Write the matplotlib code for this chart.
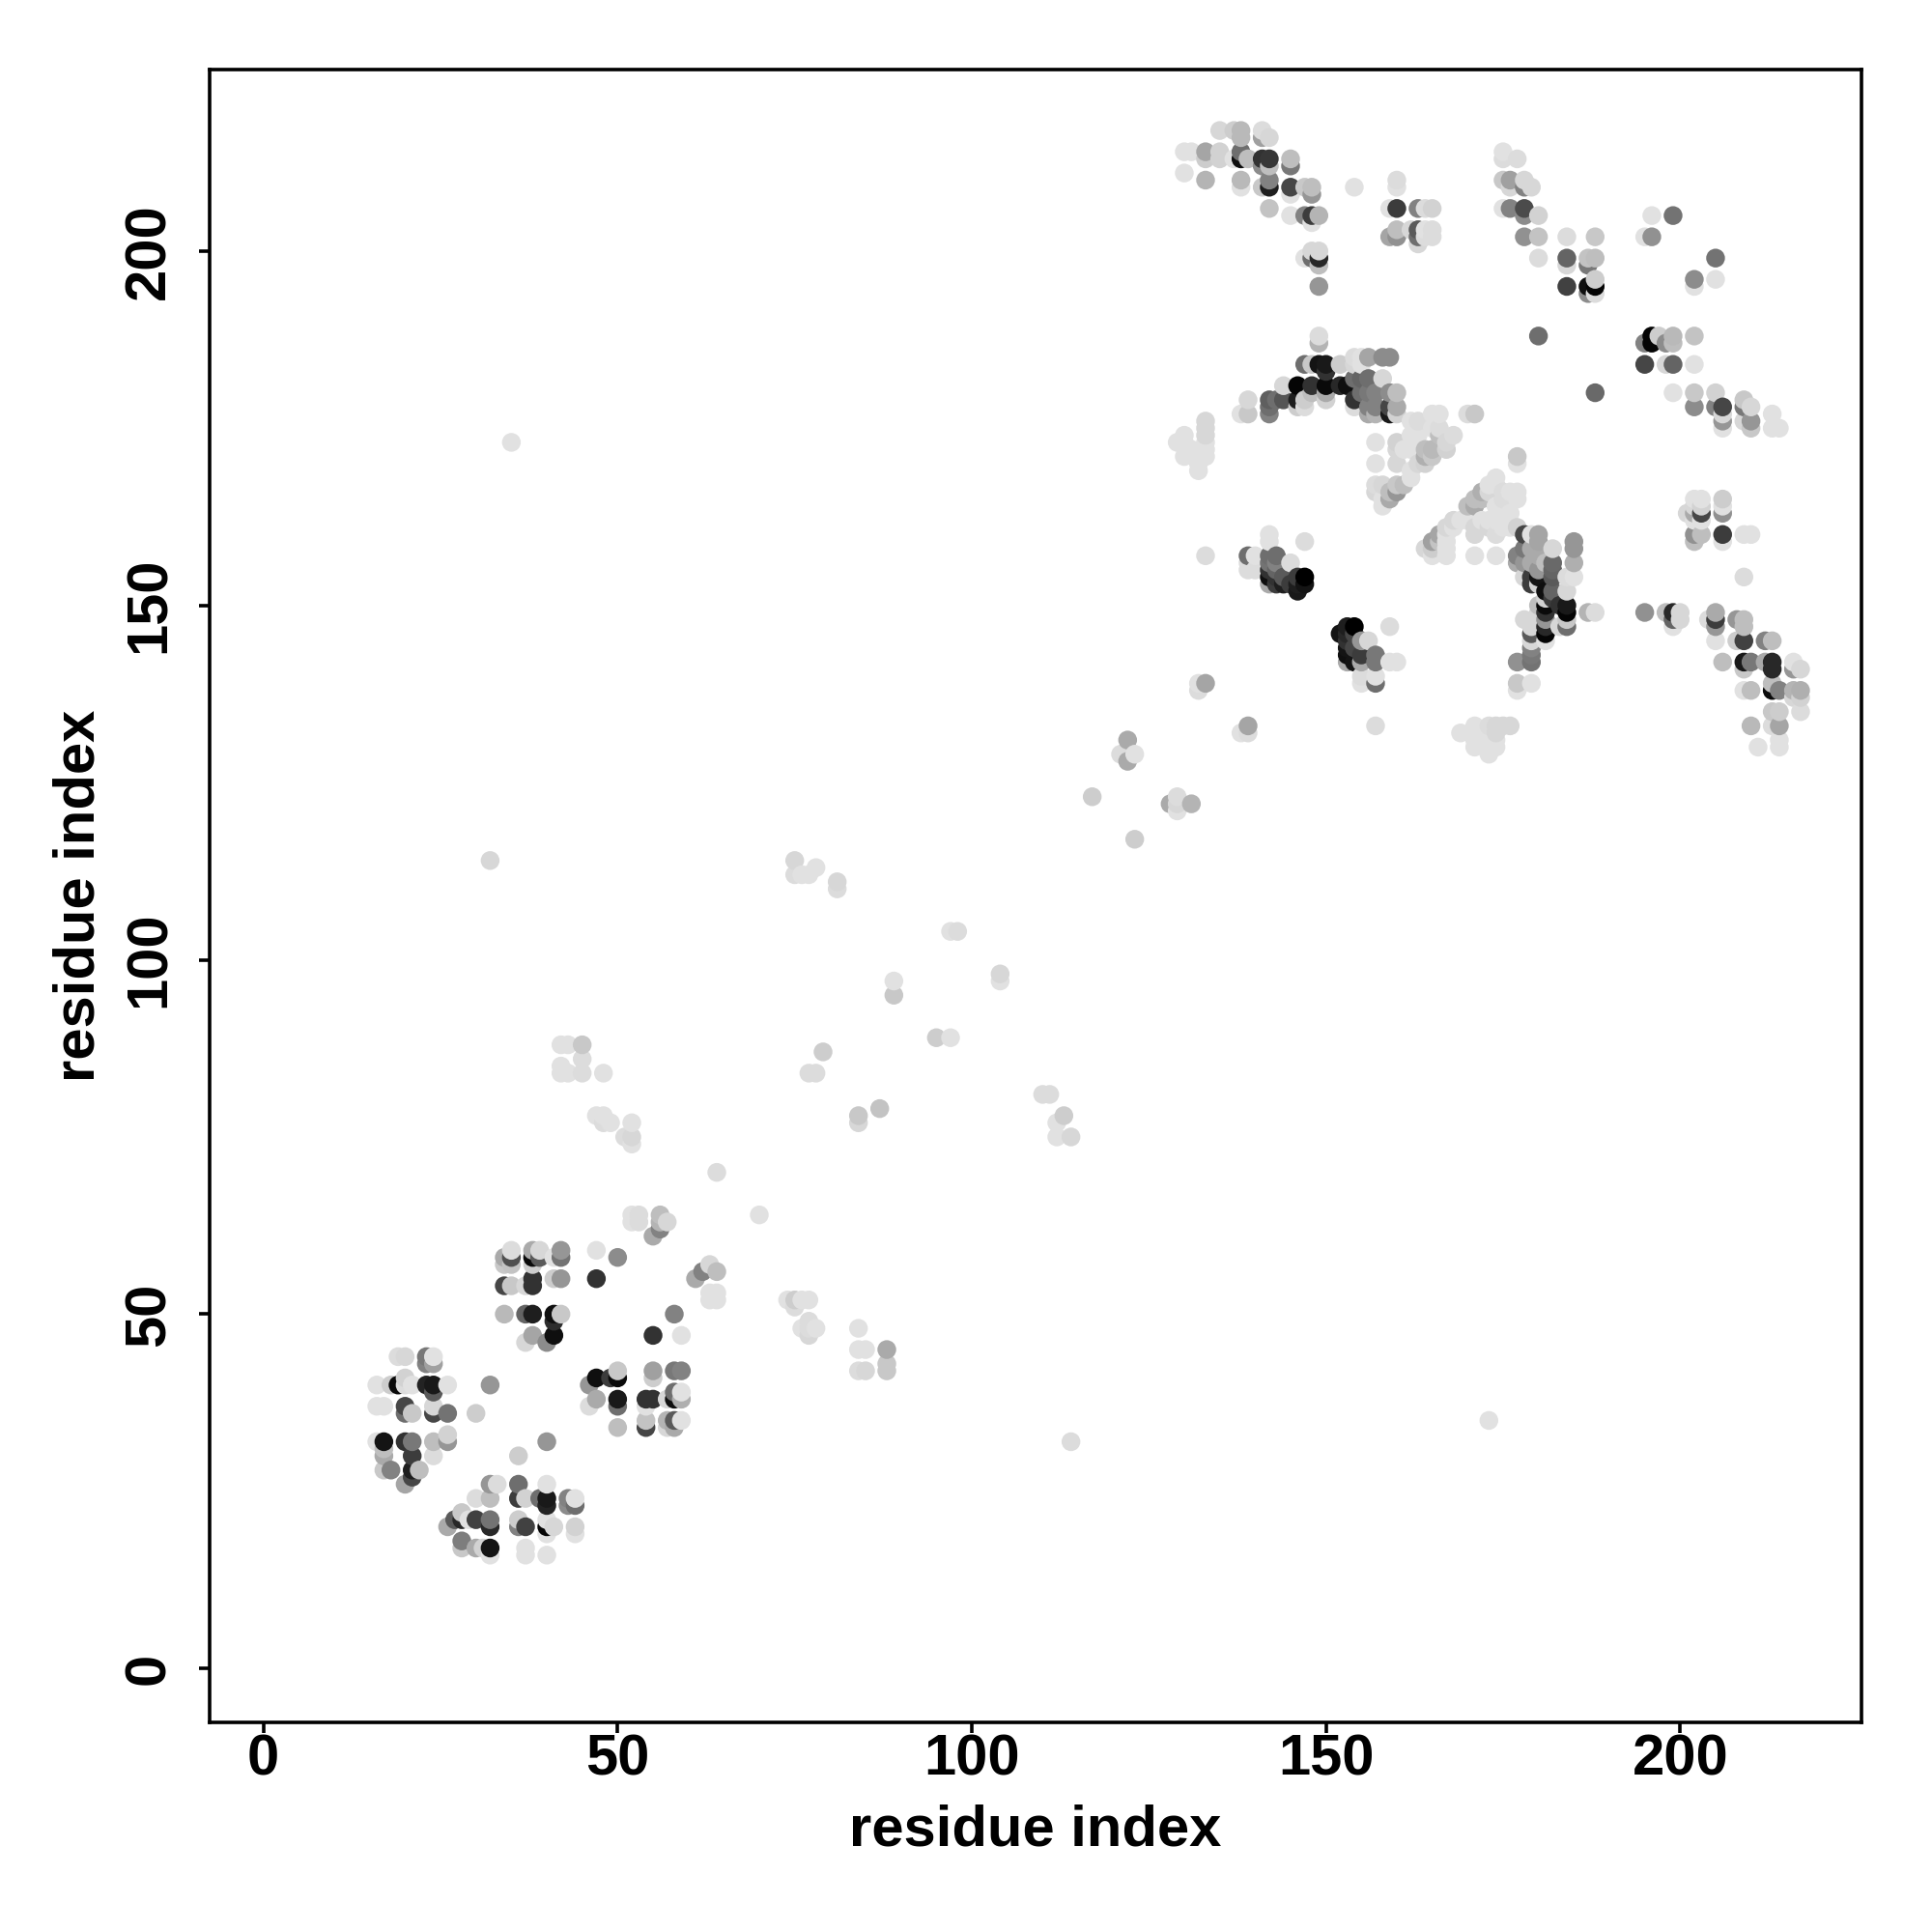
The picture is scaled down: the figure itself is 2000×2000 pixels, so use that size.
import matplotlib
matplotlib.use('Agg')
import matplotlib.pyplot as plt

# (residue i, residue j, grey level)
block_a = [(19,44,220),(20,44,215),(23,44,120),(24,43,160),(23,43,130),(24,44,225),
    (18,40,205),(19,40,10),(20,41,210),(20,40,220),(21,40,225),(24,39,90),(23,40,35),(24,40,25),(26,40,225),(16,40,225),
    (16,37,225),(17,37,225),(20,36,110),(20,37,70),(21,36,200),(24,36,70),(24,37,215),(26,36,115),(30,36,205),(32,40,150),
    (16,32,225),(17,32,20),(20,32,50),(21,32,120),(24,32,190),(26,32,150),(26,33,210),(17,30,170),(17,31,190),
    (21,30,60),(24,30,220),(17,28,200),(18,28,130),(20,26,165),(21,27,70),(21,28,30),(22,28,190)]

block_b = [(32,26,150),(33,26,220),(36,26,110),(40,26,225),(30,24,220),(32,24,190),(36,24,60),(37,24,210),(39,24,110),
    (40,23,35),(40,24,25),(43,23,140),(44,23,110),(43,24,130),(44,24,225),
    (26,20,170),(27,21,90),(28,21,40),(28,22,200),(29,21,225),(30,21,65),(32,20,40),(32,21,115),(36,20,130),(36,21,205),(37,20,65),
    (40,19,225),(40,20,5),(40,21,225),(41,20,215),(44,19,225),(44,20,210),
    (28,17,200),(28,18,125),(30,17,170),(31,17,210),(32,16,225),(32,17,20),(37,17,225),(37,16,225),(40,16,225),
    (40,32,150),(36,30,205)]

block_c = [(34,57,200),(35,57,195),(34,58,170),(35,58,80),(35,59,220),(38,57,205),(38,59,170),(38,58,10),(39,58,90),(39,59,215),
    (41,58,225),(42,58,115),(42,59,150),(34,54,70),(35,54,200),(37,54,215),(38,54,50),(38,55,50),(41,55,205),(42,55,150),
    (34,50,185),(37,50,100),(38,50,30),(41,49,45),(41,50,15),(42,50,200),(37,46,215),(38,47,165),(40,46,140),(41,47,15),
    (47,59,225),(50,58,140),(47,55,50),(58,50,130),(55,47,50),(59,47,225)]

block_d = [(55,41,205),(55,42,160),(58,42,120),(59,42,130),(46,40,150),(49,41,60),(50,41,10),(47,41,15),(50,42,200),
    (46,37,220),(47,38,170),(50,37,110),(50,38,25),(54,37,225),(54,38,50),(55,38,50),(57,38,215),(58,39,110),(58,38,15),(59,38,175),(59,39,225),
    (50,34,190),(54,34,70),(54,35,195),(57,34,215),(58,34,170),(57,35,180),(58,35,90),(59,35,225)]

low_scatter = [(56,62,130),(55,61,170),(56,64,190),(56,63,180),(57,63,215),(52,64,225),(53,64,220),(52,63,225),(53,63,220),(70,64,225),
    (61,55,170),(62,56,130),(63,57,215),(64,56,190),(63,53,225),(64,53,225),(63,52,225),(64,52,225),
    (74,52,225),(75,52,205),(76,52,225),(77,52,225),(75,51,220),(76,48,225),(77,49,220),(77,48,220),(77,47,215),(78,48,225),
    (173,35,225),(114,32,220),(64,70,220),(84,48,225),(84,45,225),(85,45,225),(88,45,170),(84,42,220),(85,42,215),(88,43,200),(88,42,200),
    (84,78,200),(84,77,215),(87,79,195),(79,87,205),(77,84,220),(78,84,220),(89,97,225),(89,95,200),(95,89,205),(97,89,225),
    (97,104,225),(98,104,220),(104,98,215),(104,97,225),(110,81,220),(111,81,220),(113,78,205),(112,77,225),(112,75,225),(114,75,215),
    (35,173,225),(32,114,215),(75,114,215),(75,112,220),(76,112,225),(77,112,225),(78,113,225),(81,111,215),(81,110,220),
    (42,88,225),(43,88,225),(45,88,200),(42,84,225),(43,84,225),(45,84,220),(45,86,220),(42,85,225),(48,84,225),
    (47,78,225),(48,78,225),(48,77,220),(49,77,225),(52,77,225),(52,75,215),(52,74,225),(51,75,220)]

mid_scatter = [(117,123,205),(122,131,170),(121,129,220),(123,129,225),(122,128,170),(123,117,205),
    (128,122,170),(129,123,220),(129,122,215),(131,122,180),(129,121,225),
    (132,138,220),(132,139,225),(133,139,165),(133,157,220),(138,132,225),(139,132,220),(139,133,165)]

top_left = [(135,217,215),(137,217,205),(138,217,185),(138,216,185),(141,216,160),(141,217,220),(142,216,215),
    (130,214,225),(131,214,225),(133,213,205),(133,214,165),(135,213,210),(135,214,210),(137,213,225),(138,214,110),(138,213,15),(139,213,190),
    (141,212,140),(142,212,190),(141,213,50),(142,213,55),(145,212,120),(145,213,190),
    (130,211,225),(133,210,180),(138,209,225),(138,210,185),(141,209,200),(142,210,130),(142,209,30),(142,206,195),
    (145,208,225),(145,209,70),(148,208,150),(147,209,200),(148,209,190),
    (145,205,225),(148,204,225),(147,205,130),(148,205,60),(149,205,180),(147,199,225),(149,198,190),(148,199,110),(149,199,40),(148,200,215),(149,200,215),(149,195,150),
    (154,209,225),(160,209,225),(160,210,220),(159,206,225),(160,206,60),(163,206,130),(164,206,220),(165,206,210),
    (159,202,165),(160,202,145),(160,203,190),(163,201,215),(163,202,110),(162,203,215),(163,203,90),(164,202,220),(165,202,220),(164,203,225),(165,203,220)]

top_right = [(175,214,225),(175,213,220),(177,213,220),(176,209,215),(175,210,200),(176,210,160),(178,209,130),(178,210,215),(179,209,215),
    (175,206,225),(176,206,130),(178,205,140),(178,206,75),(180,205,210),(178,202,145),(180,202,195),(184,202,220),(188,202,200),
    (180,199,220),(184,198,215),(184,199,100),(187,198,120),(187,199,195),(188,199,190),
    (187,194,140),(188,194,220),(184,195,65),(187,195,15),(188,195,5),(188,196,205),
    (196,205,225),(199,205,115),(195,202,225),(196,202,145),(205,199,115),(202,195,225),(202,196,140),(205,196,225),
    (180,188,110),(195,187,130),(196,187,5),(196,188,5),(197,188,205),(198,187,140),(199,187,190),(199,188,185),(202,188,195),
    (195,184,70),(198,184,215),(199,184,100),(202,184,225),(188,180,105),(199,180,225),(202,180,200),(205,180,210),
    (202,178,140),(205,178,130),(206,175,225),(206,176,150),(206,177,215),(206,178,70),(209,178,120),(209,179,200),(210,178,215),
    (210,175,200),(209,176,215),(210,176,150),(213,177,225),(213,175,225),(214,175,225)]

arc = [(149,187,180),(149,188,220),(147,184,110),(148,184,200),(150,183,50),(149,184,20),(150,184,25),(152,184,205),
    (154,184,215),(155,184,225),(154,185,220),(155,185,225),(156,185,165),(158,185,140),(159,185,140),
    (144,181,215),(146,181,5),(148,181,50),(150,180,170),(150,181,10),(152,181,40),(153,181,15),(154,182,110),(155,182,100),(156,182,110),(158,182,215),
    (139,179,215),(142,177,130),(142,178,110),(142,179,95),(143,179,110),(144,179,85),(146,178,205),(147,178,220),(146,179,30),(147,179,205),(148,180,190),(150,179,210),
    (138,177,225),(139,177,200),(154,178,220),(154,179,50),(155,180,110),(156,180,120),(157,180,130),(159,180,140),(160,180,190),
    (156,177,170),(157,177,180),(156,178,130),(157,178,130),(159,178,70),(159,177,25),(160,178,170),(160,177,210),(170,177,220),(171,177,200)]

light_blob = [(157,173,225),(157,170,225),(160,173,210),(162,176,225),(163,176,220),(165,177,225),(166,177,225),(165,175,225),(166,175,220),
    (164,172,190),(165,172,185),(164,171,175),(165,171,200),(163,170,215),(164,170,210),(162,169,225),(162,168,225),(160,172,215),(160,170,215),
    (161,172,225),(162,172,225),(163,174,225),(162,174,225),(166,174,190),(167,172,210),(167,173,215),(168,174,220),
    (158,164,225),(159,165,170),(158,165,225),(157,166,215),(159,166,190),(160,166,150),(157,167,220),(158,167,215),(160,167,200),(161,167,190),
    (129,173,225),(130,174,225),(130,173,225),(130,171,225),(133,176,215),(133,175,215),(133,174,215),(133,173,225),(131,172,225),(133,172,225),(132,170,225),(133,171,225),(132,169,225),
    (177,170,225),(177,171,200)]

diag = [(170,164,190),(171,164,170),(171,165,190),(172,165,190),(172,166,175),(173,166,215),(173,167,225),(174,167,225),(174,168,225),
    (175,166,220),(176,166,225),(177,166,225),(175,165,220),(177,165,225),(174,164,225),(176,163,225),
    (168,162,215),(169,162,225),(170,162,225),(172,162,225),(173,162,225),(174,162,225),(175,162,225),
    (167,161,215),(168,161,225),(171,161,215),(173,161,215),(175,161,225),(176,161,225),(177,161,210),
    (166,160,165),(167,160,225),(171,160,215),(174,160,220),(165,159,160),(166,159,195),(167,159,225),(164,158,215),(165,158,205),(167,158,225),
    (165,157,225),(167,157,225),(171,157,225),(174,157,225),
    (169,132,225),(171,133,225),(173,133,220),(174,133,215),(175,133,215),(176,133,215),(171,132,225),(173,132,225),(174,132,215),
    (171,131,225),(173,131,225),(174,131,225),(171,130,225),(173,130,225),(174,130,225),(173,129,225)]

strand_a = [(142,159,225),(142,160,225),(147,159,220),(139,157,110),(140,157,225),(142,157,110),(143,157,110),(139,156,220),(139,155,220),(140,155,220),
    (142,156,115),(143,156,130),(145,156,220),(142,155,50),(143,155,100),(142,153,170),(142,154,15),(143,154,50),(144,154,90),(143,153,60),(144,153,30),(145,153,60),
    (146,152,25),(146,154,60),(146,153,30),(147,153,20),(147,154,0)]

strand_b = [(159,147,220),(153,147,30),(154,147,0),(152,146,20),(153,146,40),(154,146,70),(153,145,50),(155,145,150),(156,145,215),
    (153,144,20),(154,144,70),(153,142,170),(155,142,170),(154,142,20),(153,143,15),(155,143,60),(157,142,120),(157,143,120),(159,142,225),(160,142,225),
    (155,139,225),(155,140,220),(157,139,110),(157,140,225),(157,133,220)]

strand_c = [(178,160,70),(179,160,225),(180,159,165),(180,160,165),(185,158,150),(185,159,150),(182,158,215),(178,158,120),(179,158,170),(177,157,130),(180,157,170),
    (177,156,170),(178,156,150),(179,156,170),(181,156,190),(182,156,105),(185,156,175),(180,155,150),(182,155,100),(178,154,215),(179,154,60),(179,153,60),(180,153,210),(180,154,20),(182,154,90),
    (184,154,220),(185,154,225),(181,151,210),(181,152,15),(182,152,100),(182,151,60),(184,152,215),(180,150,190),(180,149,215),(181,149,50),(181,150,10),(183,150,50),(184,149,5),(184,150,25),
    (178,148,215),(179,146,90),(179,147,215),(181,146,5),(181,147,40),(181,148,150),(183,147,215),(184,147,110),(184,148,200),(179,145,215),(181,145,225),
    (179,144,130),(179,143,120),(177,142,145),(179,142,115),(177,138,225),(177,139,200),(179,139,225),(187,149,180),(188,149,220)]

strand_d = [(195,149,145),(198,149,190),(199,147,225),(199,148,100),(199,149,40),(200,148,215),(200,149,215),
    (204,148,220),(205,147,150),(205,148,60),(205,149,170),(205,145,225),(208,148,150),(209,147,190),(209,148,190),
    (208,145,205),(209,145,65),(212,145,130),(213,145,190),(206,142,190),(209,141,200),(209,142,25),(210,142,120),(212,142,170),(213,141,40),(213,142,40),
    (216,141,150),(216,142,225),(217,141,215),(209,138,225),(210,138,190),(213,139,190),(213,138,10),(214,138,130),(216,137,215),(217,137,210),(216,138,180),(217,138,175),(217,135,220),
    (213,135,200),(214,135,205),(213,133,220),(214,133,165),(210,133,185),(214,131,225),(211,130,225),(214,130,225),
    (201,163,215),(202,163,170),(203,163,70),(206,163,145),(202,164,215),(203,164,210),(206,164,225),(202,165,225),(203,165,225),(206,165,205),(202,162,225),(203,162,225),
    (202,159,190),(202,160,145),(203,160,190),(206,159,225),(206,160,60),(209,160,225),(210,160,225),(209,154,220)]

blocks = [low_scatter, mid_scatter, block_a, block_b, block_c, block_d, top_left, top_right, light_blob, diag, arc, strand_a, strand_b, strand_c, strand_d]
# later residues sit on top in the original, so sort before drawing
points = sorted(p for b in blocks for p in b)
res_i = [p[0] for p in points]
res_j = [p[1] for p in points]
shade = [p[2] for p in points]

ticks = [0, 50, 100, 150, 200]

plt.rcParams['font.family'] = ['Liberation Sans', 'DejaVu Sans']
fig = plt.figure(figsize=(20, 20), dpi=100)
ax = fig.add_axes([217/2000, 1 - 1783/2000, 1710/2000, 1711/2000])
ax.scatter(res_i, res_j, c=shade, cmap='gray', vmin=0, vmax=255, s=196, linewidths=0)
ax.set_xlim(-7.6, 225.6)
ax.set_ylim(-7.6, 225.6)
ax.set_xticks(ticks)
ax.set_yticks(ticks)
ax.tick_params(length=8, width=2.6, labelsize=43, pad=0)
ax.tick_params(axis='y', pad=17)
for t in ax.get_xticklabels() + ax.get_yticklabels():
    t.set_fontweight('bold')
for t in ax.get_yticklabels():
    t.set_rotation(90)
    t.set_va('center')
for s in ax.spines.values():
    s.set_linewidth(2.6)
ax.set_xlabel('residue index', fontsize=43, fontweight='bold', va='center')
ax.set_ylabel('residue index', fontsize=43, fontweight='bold', va='center')
ax.xaxis.set_label_coords(0.5, -0.0655)
ax.yaxis.set_label_coords(-0.079, 0.5)
fig.savefig('out.png', dpi=100)
